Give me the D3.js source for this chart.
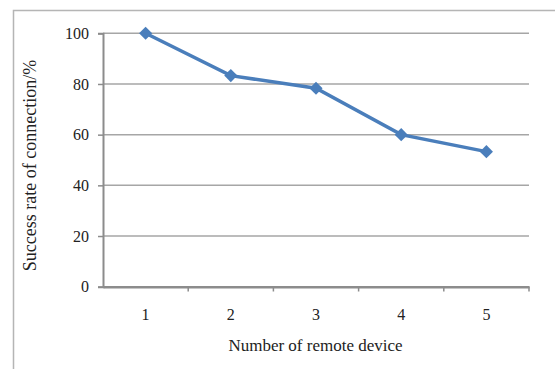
<!DOCTYPE html>
<html><head><meta charset="utf-8">
<script src="https://cdn.jsdelivr.net/npm/d3@7"></script>
<style>body{margin:0;background:#fff;}svg{display:block;}</style>
</head><body>
<script>
const categories = ["1","2","3","4","5"];
const values = [100, 83.3, 78.3, 60, 53.3];
const yTicks = [0,20,40,60,80,100];
const xTitle = "Number of remote device";
const yTitle = "Success rate of connection/%";

const W = 555, H = 369;
const svg = d3.select("body").append("svg").attr("width", W).attr("height", H);
const font = "'Liberation Serif','Times New Roman',serif";

// outer frame
svg.append("path").attr("d", "M13.5,369 V10.5 H555").attr("fill","none").attr("stroke","#b5b5b5").attr("stroke-width",1.5);

const x = d3.scaleBand().domain(categories).range([103, 529]);
const y = d3.scaleLinear().domain([0,100]).range([286.7, 33.3]);

// gridlines
svg.append("g").selectAll("line").data(yTicks.filter(d=>d>0)).join("line")
  .attr("x1",103).attr("x2",529).attr("y1",d=>y(d)).attr("y2",d=>y(d))
  .attr("stroke","#a6a6a6").attr("stroke-width",1.5);

// y axis
const ya = svg.append("g").attr("transform","translate(103,0)")
  .call(d3.axisLeft(y).tickValues(yTicks).tickSize(5).tickPadding(9));
ya.attr("font-family", null);
ya.select(".domain").attr("stroke","#8c8c8c").attr("stroke-width",2);
ya.selectAll(".tick line").attr("stroke","#8c8c8c").attr("stroke-width",1.5);
ya.selectAll("text").style("font-family",font).style("font-size","16px").attr("fill","#222");

// x axis
const xa = svg.append("g").attr("transform","translate(0,286.7)")
  .call(d3.axisBottom(x).tickSize(0).tickPadding(22));
xa.attr("font-family", null);
xa.select(".domain").attr("stroke","#8c8c8c").attr("stroke-width",2.5);
xa.selectAll("text").style("font-family",font).style("font-size","16px").attr("fill","#222");
svg.append("g").selectAll("line").data(categories).join("line")
  .attr("x1",d=>x(d)+x.bandwidth()).attr("x2",d=>x(d)+x.bandwidth())
  .attr("y1",286.7).attr("y2",291.5).attr("stroke","#8c8c8c").attr("stroke-width",1.5);

// line
const cx = d => x(d) + x.bandwidth()/2;
svg.append("path").datum(values)
  .attr("d", d3.line().x((d,i)=>cx(categories[i])).y(d=>y(d)))
  .attr("fill","none").attr("stroke","#4a7ebb").attr("stroke-width",3.5);
svg.append("g").selectAll("path").data(values).join("path")
  .attr("transform",(d,i)=>`translate(${cx(categories[i])},${y(d)})`)
  .attr("d", d3.symbol(d3.symbolDiamond2, 110)())
  .attr("fill","#4a7ebb");

// titles
svg.append("text").attr("x",315.5).attr("y",351).attr("text-anchor","middle")
  .style("font-family",font).style("font-size","17px").attr("fill","#222").text(xTitle);
svg.append("text").attr("transform","translate(36,165.5) rotate(-90)").attr("text-anchor","middle")
  .style("font-family",font).style("font-size","18px").attr("fill","#222").text(yTitle);
</script>
</body></html>
